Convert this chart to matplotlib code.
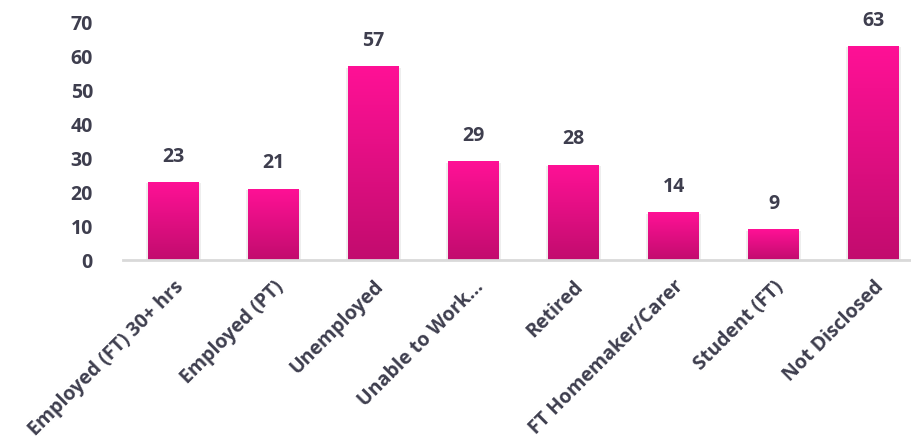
import matplotlib.pyplot as plt
import numpy as np
from matplotlib.colors import LinearSegmentedColormap
from matplotlib.patches import Rectangle

# data
categories = ["Employed (FT) 30+ hrs", "Employed (PT)", "Unemployed", "Unable to Work...",
              "Retired", "FT Homemaker/Carer", "Student (FT)", "Not Disclosed"]
counts = [23, 21, 57, 29, 28, 14, 9, 63]
yticks = [0, 10, 20, 30, 40, 50, 60, 70]

text_col = "#3E3E4E"
plt.rcParams['font.family'] = ['Open Sans', 'DejaVu Sans']
plt.rcParams['font.weight'] = 'bold'

fig = plt.figure(figsize=(9.12, 4.46), dpi=100)
ax = fig.add_axes([123.5 / 912, 1 - 260 / 446, 1 - 123.5 / 912, 238 / 446])

x = np.arange(len(categories))
w = 0.51
grad = LinearSegmentedColormap.from_list("pink", ["#C20C6E", "#FF1196"])
img = np.linspace(0, 1, 256).reshape(-1, 1)

# light shadow behind bars
ax.bar(x, counts, width=w + 0.04, bottom=-0.4, color="#EEEEEE", zorder=1)
bars = ax.bar(x, counts, width=w, color="none", zorder=2)
for b in bars:
    x0, y0 = b.get_x(), b.get_y()
    bw, bh = b.get_width(), b.get_height()
    im = ax.imshow(img, cmap=grad, origin="lower", aspect="auto",
                   extent=(x0, x0 + bw, y0, y0 + bh), zorder=3)
    im.set_clip_path(Rectangle((x0, y0), bw, bh, transform=ax.transData))
    ax.text(x0 + bw / 2, bh + 4.5, str(int(bh)), ha="center", va="bottom",
            fontsize=14, fontweight="bold", color=text_col)

ax.set_xlim(-0.5, 7.385)
ax.set_ylim(0, 70)
ax.set_yticks(yticks)
ax.set_xticks(x)
ax.set_xticklabels(categories, rotation=45, ha="right", rotation_mode="anchor")
ax.tick_params(axis="y", length=0, pad=22, labelsize=14, labelcolor=text_col)
ax.tick_params(axis="x", length=0, pad=12, labelsize=14, labelcolor=text_col)
for s in ["top", "right", "left"]:
    ax.spines[s].set_visible(False)
ax.spines["bottom"].set_color("#D9D9D9")
ax.spines["bottom"].set_linewidth(2)
ax.spines["bottom"].set_zorder(4)

fig.savefig("out.png", dpi=100)
